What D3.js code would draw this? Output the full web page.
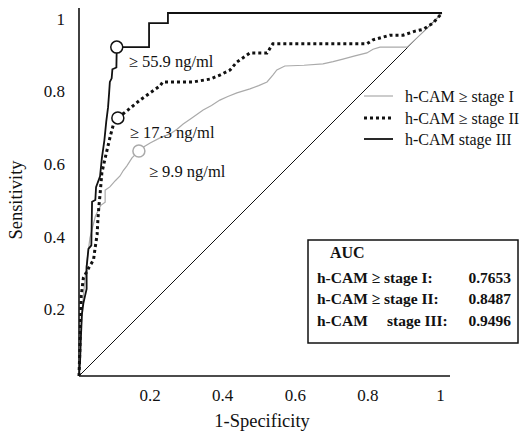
<!DOCTYPE html>
<html><head><meta charset="utf-8">
<script src="https://cdn.jsdelivr.net/npm/d3@7"></script>
<style>
body{margin:0;background:#fff;}
svg text{font-family:'Liberation Serif','Tinos','DejaVu Serif',serif !important;fill:#111;}
</style></head>
<body><svg id="c" width="525" height="434"></svg>
<script>
// ---- data ----
const stage3 = [[0,0],[0.003,0.04],[0.005,0.1],[0.008,0.17],[0.012,0.2],[0.021,0.24],[0.021,0.3],[0.026,0.35],[0.034,0.36],[0.035,0.42],[0.036,0.48],[0.045,0.485],[0.047,0.52],[0.058,0.55],[0.063,0.6],[0.07,0.65],[0.075,0.7],[0.08,0.74],[0.083,0.78],[0.085,0.81],[0.09,0.82],[0.092,0.845],[0.103,0.85],[0.104,0.906],[0.193,0.906],[0.193,0.972],[0.245,0.972],[0.245,1],[1,1]];
const stage2 = [[0,0],[0.002,0.06],[0.004,0.14],[0.006,0.22],[0.012,0.27],[0.028,0.3],[0.04,0.32],[0.044,0.35],[0.05,0.39],[0.052,0.43],[0.055,0.47],[0.058,0.5],[0.063,0.56],[0.072,0.6],[0.079,0.63],[0.086,0.66],[0.094,0.69],[0.107,0.711],[0.135,0.733],[0.168,0.76],[0.196,0.78],[0.223,0.799],[0.231,0.81],[0.314,0.81],[0.361,0.818],[0.388,0.829],[0.416,0.843],[0.435,0.865],[0.471,0.89],[0.518,0.89],[0.534,0.915],[0.793,0.915],[0.81,0.926],[0.857,0.939],[0.893,0.939],[0.926,0.95],[0.948,0.955],[0.975,0.972],[1,1]];
const stage1 = [[0,0],[0.004,0.1],[0.01,0.2],[0.02,0.3],[0.03,0.38],[0.045,0.44],[0.06,0.47],[0.072,0.479],[0.072,0.512],[0.085,0.521],[0.1,0.538],[0.113,0.551],[0.122,0.566],[0.132,0.579],[0.146,0.601],[0.165,0.62],[0.18,0.632],[0.196,0.642],[0.223,0.656],[0.251,0.667],[0.27,0.68],[0.287,0.694],[0.31,0.71],[0.342,0.733],[0.365,0.745],[0.388,0.76],[0.41,0.77],[0.435,0.78],[0.471,0.791],[0.495,0.8],[0.518,0.81],[0.534,0.829],[0.545,0.843],[0.567,0.854],[0.62,0.856],[0.672,0.86],[0.7,0.866],[0.727,0.873],[0.76,0.882],[0.793,0.89],[0.81,0.9],[0.829,0.906],[0.904,0.906],[0.939,0.939],[0.97,0.968],[1,1]];
const cutoffPoints = [[0.104,0.906],[0.107,0.711],[0.165,0.62]];
const cutoffLabels = ["≥ 55.9 ng/ml","≥ 17.3 ng/ml","≥ 9.9 ng/ml"];
const seriesNames = ["h-CAM ≥ stage I","h-CAM ≥ stage II","h-CAM stage III"];
const aucLabels = ["h-CAM ≥ stage I:","h-CAM ≥ stage II:","h-CAM"];
const aucValues = ["0.7653","0.8487","0.9496"];
const tickValues = [0.2,0.4,0.6,0.8,1];

// ---- chart ----
const FONT = "'Liberation Serif','Tinos','DejaVu Serif',serif";
const svg = d3.select("#c").attr("font-family",FONT);
const x = d3.scaleLinear().domain([0,1]).range([79,442]);
const y = d3.scaleLinear().domain([0,1]).range([376,13]);
const line = d3.line().x(d=>x(d[0])).y(d=>y(d[1]));

// axes
const xa = svg.append("g").attr("transform","translate(0,376)")
  .call(d3.axisBottom(x).tickValues(tickValues).tickFormat(d3.format("")).tickSize(0).tickPadding(13));
xa.attr("font-family",FONT).attr("font-size",17);
xa.select(".domain").remove();
xa.selectAll("text").attr("dx",-2);
const ya = svg.append("g").attr("transform","translate(79,0)")
  .call(d3.axisLeft(y).tickValues(tickValues).tickFormat(d3.format("")).tickSize(0).tickPadding(14));
ya.attr("font-family",FONT).attr("font-size",17);
ya.select(".domain").remove();
ya.selectAll("text").attr("dy","0.66em");
svg.append("line").attr("x1",79).attr("x2",450).attr("y1",376).attr("y2",376).attr("stroke","#111").attr("stroke-width",1.6);
svg.append("line").attr("x1",79).attr("x2",79).attr("y1",8).attr("y2",376).attr("stroke","#111").attr("stroke-width",1.6);

// diagonal
svg.append("path").attr("d",line([[0,0],[1,1]])).attr("stroke","#111").attr("stroke-width",1).attr("fill","none");

// curves
svg.append("path").attr("d",line(stage1)).attr("stroke","#aaa").attr("stroke-width",1.2).attr("fill","none");
svg.append("path").attr("d",line(stage2)).attr("stroke","#111").attr("stroke-width",3).attr("stroke-dasharray","3,3").attr("fill","none");
svg.append("path").attr("d",line(stage3)).attr("stroke","#111").attr("stroke-width",1.8).attr("fill","none");

// cutoff circles and labels
const circleColors = ["#111","#111","#aaa"];
const labelOffsets = [[12,20],[12,20],[10,26]];
cutoffPoints.forEach((p,i)=>{
  svg.append("circle").attr("cx",x(p[0])).attr("cy",y(p[1])).attr("r",6)
    .attr("fill","#fff").attr("stroke",circleColors[i]).attr("stroke-width",1.5);
  svg.append("text").attr("x",x(p[0])+labelOffsets[i][0]).attr("y",y(p[1])+labelOffsets[i][1])
    .attr("font-size",16.5).text(cutoffLabels[i]);
});

// legend
const legY = [96,118,139];
const legStyle = [{s:"#aaa",w:1.2,d:null},{s:"#111",w:3,d:"3,3"},{s:"#111",w:1.8,d:null}];
seriesNames.forEach((n,i)=>{
  svg.append("line").attr("x1",364).attr("x2",393).attr("y1",legY[i]).attr("y2",legY[i])
    .attr("stroke",legStyle[i].s).attr("stroke-width",legStyle[i].w).attr("stroke-dasharray",legStyle[i].d);
  svg.append("text").attr("x",405).attr("y",legY[i]+6).attr("font-size",16).text(n);
});

// AUC box
svg.append("rect").attr("x",308).attr("y",240).attr("width",210).attr("height",103)
  .attr("fill","#fff").attr("stroke","#111").attr("stroke-width",1.5);
svg.append("text").attr("x",330).attr("y",258).attr("font-size",16).attr("font-weight","bold").text("AUC");
const rowY = [283,304,326];
aucLabels.forEach((l,i)=>{
  svg.append("text").attr("x",317).attr("y",rowY[i]).attr("font-size",15.5).attr("font-weight","bold").text(l);
  svg.append("text").attr("x",511).attr("y",rowY[i]).attr("font-size",15.5).attr("font-weight","bold")
    .attr("text-anchor","end").text(aucValues[i]);
});
svg.append("text").attr("x",387).attr("y",rowY[2]).attr("font-size",15.5).attr("font-weight","bold").text("stage III:");

// axis titles
svg.append("text").attr("x",262).attr("y",427).attr("text-anchor","middle").attr("font-size",18.5).text("1-Specificity");
svg.append("text").attr("transform","translate(22,200) rotate(-90)").attr("text-anchor","middle").attr("font-size",18.5).text("Sensitivity");
</script></body></html>
